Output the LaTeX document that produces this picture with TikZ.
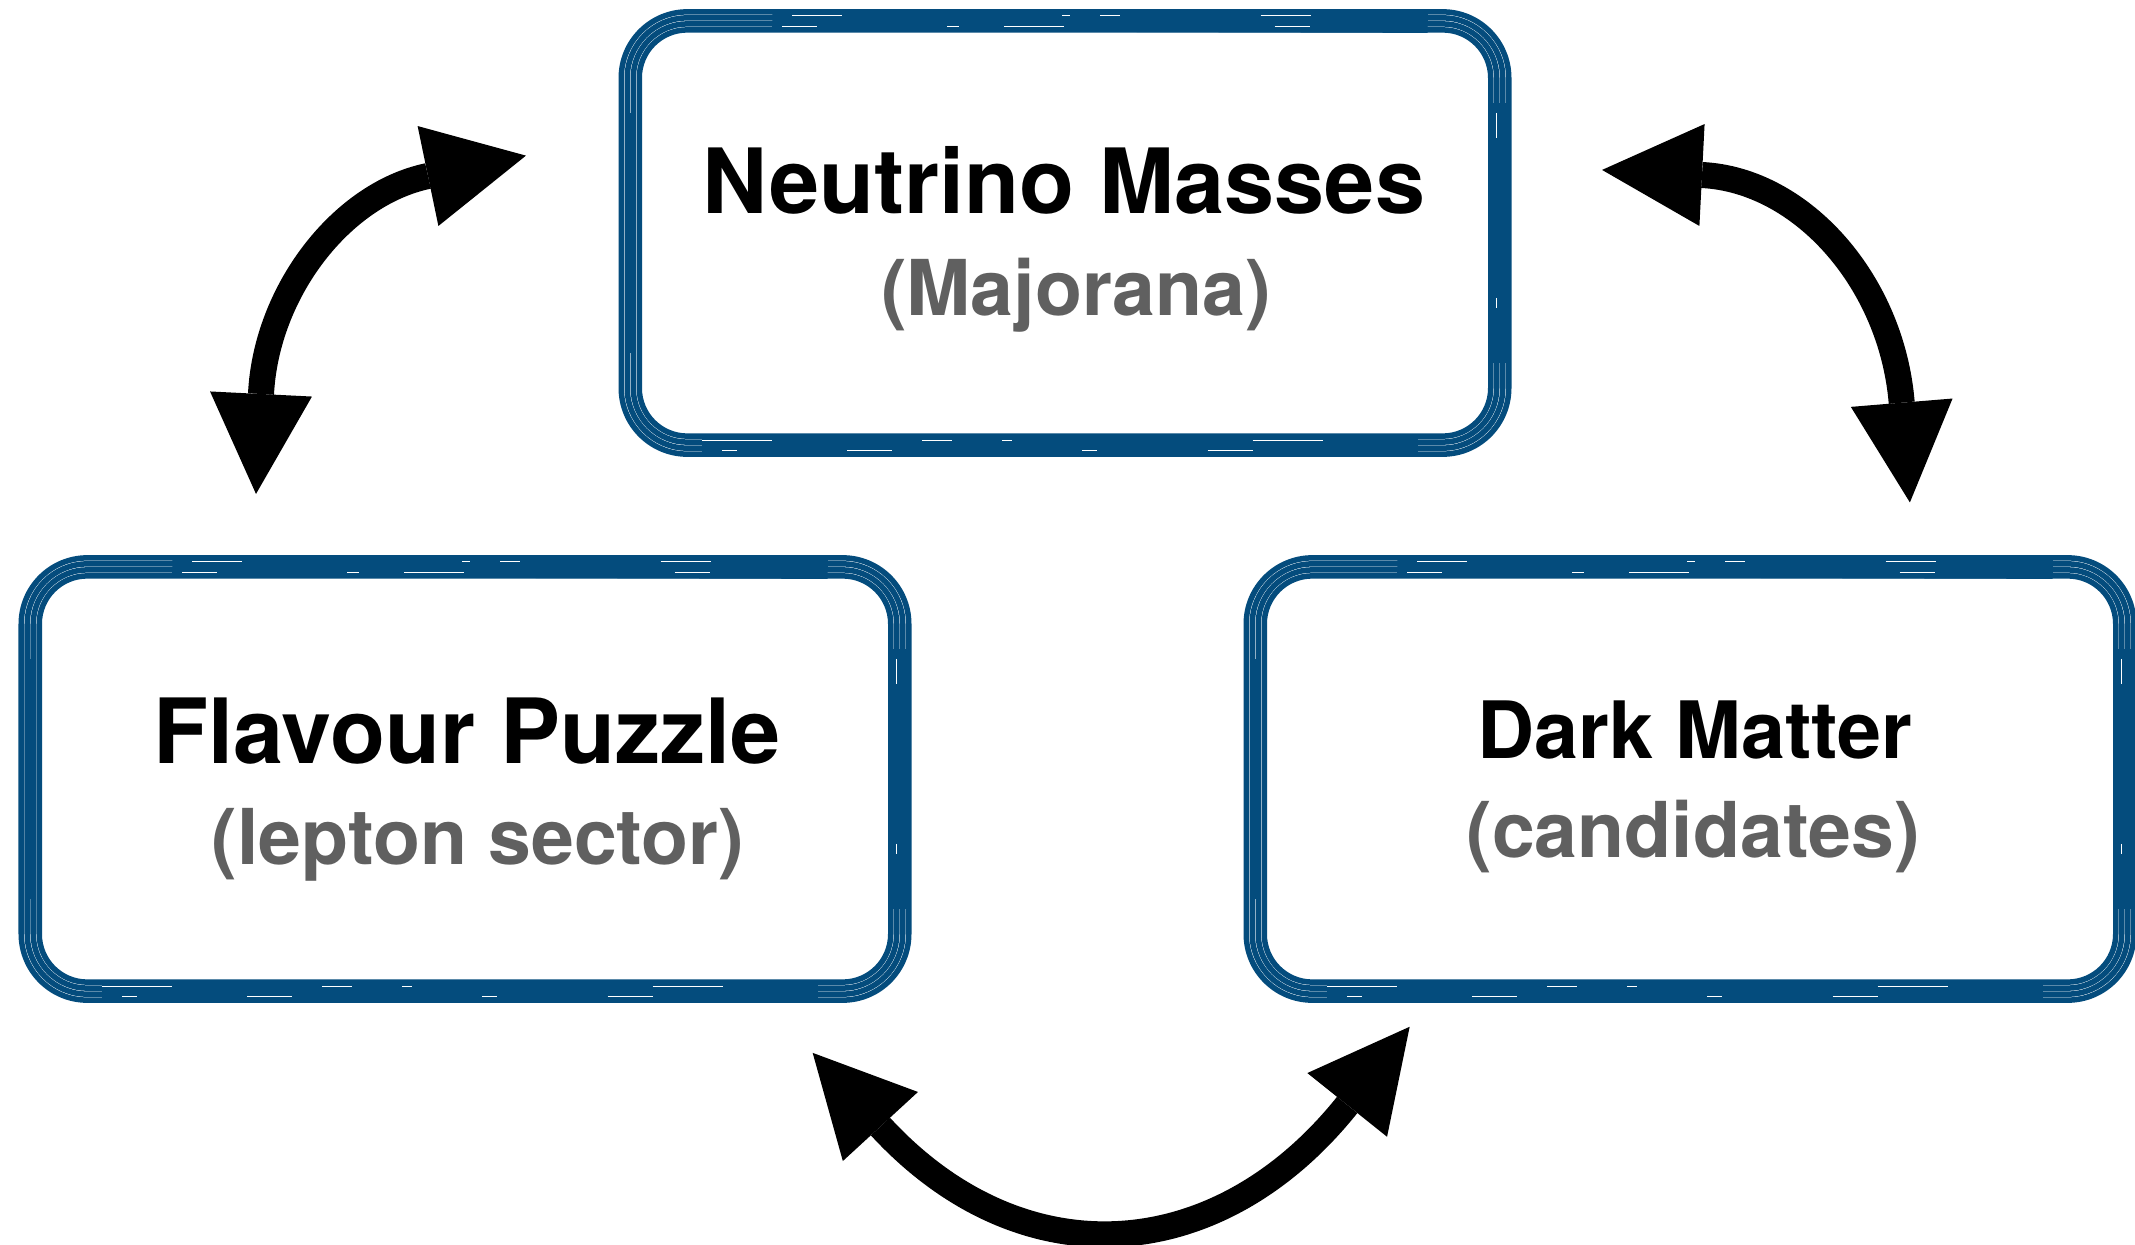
\documentclass[tikz,border=0pt]{standalone}
\usepackage{fontspec}
\setmainfont{TeX Gyre Heros}
\usetikzlibrary{arrows.meta}
\definecolor{bblue}{RGB}{4,76,125}
\definecolor{subgray}{RGB}{96,96,96}
\begin{document}
\begin{tikzpicture}[x=0.01cm, y=-0.01cm,
  box/.style={draw=none, outer sep=0pt, inner sep=0pt, minimum width=8.65cm, minimum height=4.2cm},
  streak/.style={draw=bblue, line width=0.055cm},
  band/.style={draw=bblue, line width=0.2cm},
  scr/.style={draw=white, line width=0.011cm},
  ttl/.style={inner sep=0pt, anchor=base, font=\fontsize{25.6pt}{31pt}\selectfont\bfseries},
  ttlb/.style={inner sep=0pt, anchor=base, font=\fontsize{22.5pt}{27pt}\selectfont\bfseries},
  sub/.style={inner sep=0pt, anchor=base, text=subgray, font=\fontsize{21.9pt}{26pt}\selectfont\bfseries},
  arr/.style={line width=0.26cm,
    {Triangle[length=1cm,width=1.02cm,line width=0pt]}-{Triangle[length=1cm,width=1.02cm,line width=0pt]},
    shorten >=-1cm, shorten <=-1cm}
]
\fill[white] (0,0) rectangle (2135,1245);
\useasboundingbox (0,0) rectangle (2135,1245);

% boxes
\node[box] (nm) at (1065,233) {};
\node[box] (fp) at (465,779) {};
\node[box] (dm) at (1690,779) {};

\foreach \b in {nm,fp,dm}{
  % brush streaks
  \foreach \d/\r in {11/0.66cm, 5/0.60cm, -1/0.54cm, -7/0.48cm}{
    \draw[streak, rounded corners=\r] ([shift={(-\d,-\d)}]\b.north west) rectangle ([shift={(\d,\d)}]\b.south east);
  }
  % solid parts of the brush
  \draw[band] ([shift={(140,-2)}]\b.north west) -- ([shift={(-70,0)}]\b.north east);
  \draw[band] ([shift={(70,2)}]\b.south west) -- ([shift={(-80,2)}]\b.south east);
  \draw[band, line width=0.17cm] ([shift={(3,80)}]\b.north east) -- ([shift={(3,-80)}]\b.south east);
  \draw[band, line width=0.1cm] ([shift={(-2,90)}]\b.north west) -- ([shift={(-2,-90)}]\b.south west);
  % scratches
  \draw[scr, dash pattern=on 0.35cm off 1.3cm on 0.12cm off 0.45cm on 0.6cm off 2.1cm] ([shift={(150,4)}]\b.north west) -- ([shift={(-70,4)}]\b.north east);
  \draw[scr, dash pattern=on 0.5cm off 2.2cm on 0.08cm off 0.3cm on 0.2cm off 1.4cm] ([shift={(160,-7)}]\b.north west) -- ([shift={(-90,-7)}]\b.north east);
  \draw[scr, dash pattern=on 0.7cm off 1.5cm on 0.3cm off 0.5cm on 0.1cm off 2.4cm] ([shift={(70,-3)}]\b.south west) -- ([shift={(-80,-3)}]\b.south east);
  \draw[scr, dash pattern=on 0.15cm off 1.1cm on 0.45cm off 1.9cm] ([shift={(90,7)}]\b.south west) -- ([shift={(-80,7)}]\b.south east);
  \draw[scr, dash pattern=on 0.25cm off 1.6cm on 0.1cm off 0.9cm] ([shift={(-1,90)}]\b.north east) -- ([shift={(-1,-90)}]\b.south east);
}

% texts
\node[ttl] (nmt) at (1064,213) {Neutrino Masses};
\node[sub] (nms) at (1076,315) {(Majorana)};
\node[ttl] (fpt) at (467,763) {Flavour Puzzle};
\node[sub] (fps) at (478,864) {(lepton sector)};
\node[ttlb] (dmt) at (1695,758) {Dark Matter};
\node[sub] (dms) at (1693,857) {(candidates)};

% arrows
\coordinate (a0) at (261,394);
\coordinate (a1) at (428,176);
\draw[arr] (a0) .. controls (266.1,292.1) and (341,194.1) .. (a1);

\coordinate (b0) at (1702,175);
\coordinate (b1) at (1901.7,402.7);
\draw[arr] (b0) .. controls (1802.4,180.1) and (1891.8,282.2) .. (b1);

\coordinate (c0) at (880.4,1126.5);
\coordinate (c1) at (1347.2,1104.9);
\draw[arr] (c0) .. controls (1021.2,1279.6) and (1217.4,1267.3) .. (c1);
\end{tikzpicture}
\end{document}
